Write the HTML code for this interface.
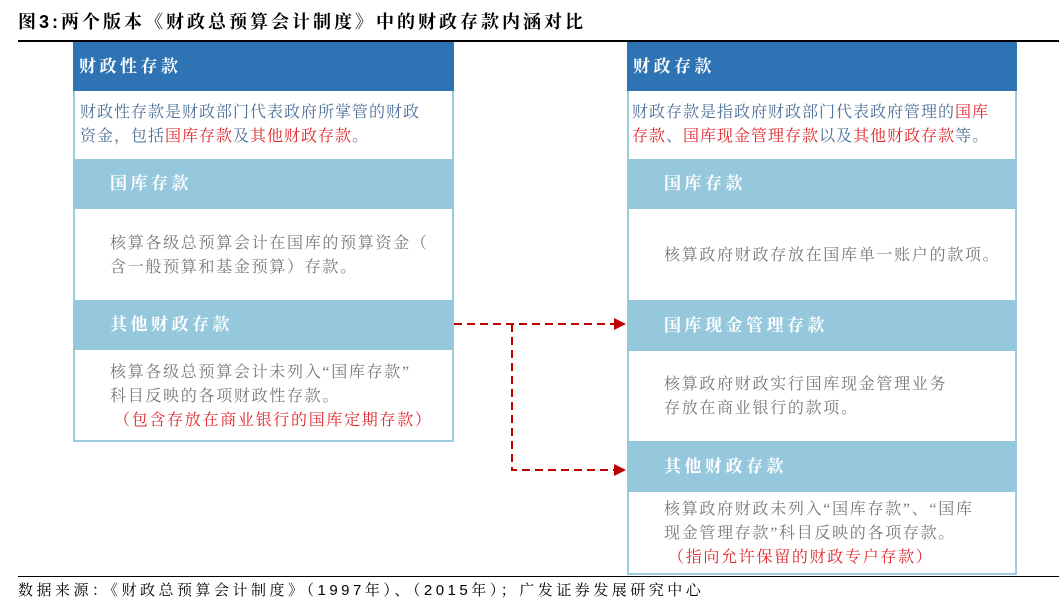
<!DOCTYPE html>
<html><head><meta charset="utf-8"><style>
body{margin:0;width:1059px;height:612px;background:#fff;position:relative;overflow:hidden;font-family:"Liberation Serif","Noto Serif CJK SC",serif}
.a{position:absolute}
.title{left:18px;top:8px;font-size:18px;letter-spacing:3px;font-weight:bold;font-family:"Liberation Sans","Noto Serif CJK SC",serif;color:#000;white-space:nowrap}
.hr{left:18px;width:1041px;height:2px;background:#000}
.box{border:2px solid #9ccbde;box-sizing:border-box}
.hd{background:#2e74b5;color:#fff;font-weight:bold;font-size:17px;letter-spacing:3.5px;padding-left:6px;box-sizing:border-box}
.sub{background:#96c8dd;color:#fff;font-weight:bold;font-size:17px;letter-spacing:3.5px;box-sizing:border-box}
.t{font-size:16px;line-height:24px;color:#777;white-space:nowrap;letter-spacing:1.7px}
.d{color:#4d6f98;letter-spacing:1px}
.r{color:#e0262b}
</style></head><body>
<div class="a title">图3:两个版本《财政总预算会计制度》中的财政存款内涵对比</div>
<div class="a hr" style="top:40px"></div>

<div class="a box" style="left:73px;top:42px;width:381px;height:400px"></div>
<div class="a hd" style="left:73px;top:42px;width:381px;height:49px;line-height:49px">财政性存款</div>
<div class="a t d" style="left:80px;top:101px">财政性存款是财政部门代表政府所掌管的财政<br>资金，包括<span class="r">国库存款</span>及<span class="r">其他财政存款</span>。</div>
<div class="a sub" style="left:73px;top:159px;width:381px;height:50px;line-height:50px;padding-left:37px">国库存款</div>
<div class="a t" style="left:110px;top:232px">核算各级总预算会计在国库的预算资金（<br>含一般预算和基金预算）存款。</div>
<div class="a sub" style="left:73px;top:300px;width:381px;height:50px;line-height:50px;padding-left:37px">其他财政存款</div>
<div class="a t" style="left:110px;top:361px">核算各级总预算会计未列入“国库存款”<br>科目反映的各项财政性存款。<br><span class="r" style="padding-left:4px">（包含存放在商业银行的国库定期存款）</span></div>

<div class="a box" style="left:627px;top:42px;width:390px;height:533px"></div>
<div class="a hd" style="left:627px;top:42px;width:390px;height:49px;line-height:49px">财政存款</div>
<div class="a t d" style="left:632px;top:101px">财政存款是指政府财政部门代表政府管理的<span class="r">国库</span><br><span class="r">存款</span>、<span class="r">国库现金管理存款</span>以及<span class="r">其他财政存款</span>等。</div>
<div class="a sub" style="left:627px;top:159px;width:390px;height:50px;line-height:50px;padding-left:37px">国库存款</div>
<div class="a t" style="left:664px;top:244px">核算政府财政存放在国库单一账户的款项。</div>
<div class="a sub" style="left:627px;top:300px;width:390px;height:51px;line-height:51px;padding-left:37px">国库现金管理存款</div>
<div class="a t" style="left:664px;top:373px">核算政府财政实行国库现金管理业务<br>存放在商业银行的款项。</div>
<div class="a sub" style="left:627px;top:441px;width:390px;height:51px;line-height:51px;padding-left:37px">其他财政存款</div>
<div class="a t" style="left:664px;top:498px">核算政府财政未列入“国库存款”、“国库<br>现金管理存款”科目反映的各项存款。<br><span class="r" style="padding-left:4px">（指向允许保留的财政专户存款）</span></div>

<svg class="a" style="left:0;top:0" width="1059" height="612">
<g stroke="#c00000" stroke-width="2" stroke-dasharray="8,5" fill="none">
<path d="M454 324 H615"/><path d="M512 324 V470 H615"/>
</g>
<polygon points="614,318 626,324 614,330" fill="#c00000"/>
<polygon points="614,464 626,470 614,476" fill="#c00000"/>
</svg>

<div class="a hr" style="top:576px;height:1px"></div>
<div class="a" style="left:18px;top:579px;font-size:15px;letter-spacing:3.5px;color:#000;white-space:nowrap;font-family:'Liberation Sans','Noto Serif CJK SC',serif">数据来源：《财政总预算会计制度》（1997年）、（2015年）；广发证券发展研究中心</div>
</body></html>
